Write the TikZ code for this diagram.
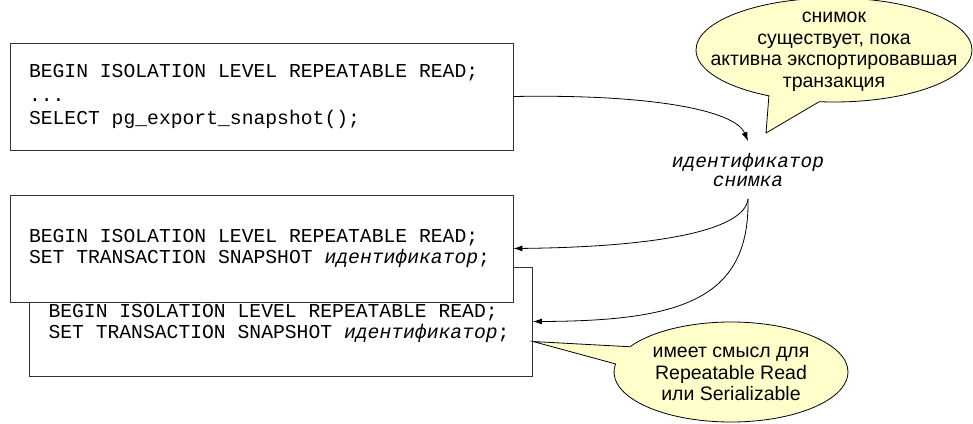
\documentclass[tikz,border=0pt]{standalone}
\usepackage{fontspec}
\setmainfont{Liberation Sans}
\newfontfamily\codefont{Liberation Mono}
\usetikzlibrary{arrows.meta,shapes.callouts}
\definecolor{notefill}{RGB}{255,255,204}
\newcommand{\bubbletext}[2][0pt]{\makebox[0pt]{\raisebox{#1}{\smash{\begin{tabular}{@{}c@{}}#2\end{tabular}}}}}

\begin{document}
\begin{tikzpicture}[x=1pt,y=-1pt]
\tikzstyle{code}=[rectangle,draw=black!80,fill=white,line width=0.9pt,minimum width=503pt,minimum height=107pt,text width=465pt,inner xsep=19pt,align=left,font=\codefont\fontsize{19.7}{20.5}\selectfont,execute at begin node={\spaceskip=0.6em\relax}]
\tikzstyle{snapid}=[inner ysep=12pt,align=center,font=\codefont\itshape\fontsize{19.5}{19}\selectfont]
\tikzstyle{note}=[ellipse callout,draw,fill=notefill,line width=0.8pt,inner sep=0pt,font=\fontsize{19.5}{21.5}\selectfont]
\tikzstyle{link}=[-{Latex[length=9pt,width=6pt]},line width=0.8pt]
\useasboundingbox (0,0) rectangle (973,423);
% second session goes behind the first one
\node at(281,321.5)(back)[code,minimum height=109pt]{\rule{0pt}{17pt}BEGIN ISOLATION LEVEL REPEATABLE READ;\\SET TRANSACTION SNAPSHOT \textit{идентификатор};};
\node at(261.5,248.5)(front)[code]{BEGIN ISOLATION LEVEL REPEATABLE READ;\\SET TRANSACTION SNAPSHOT \textit{идентификатор};};
\node at(261.5,96.5)(export)[code,font=\codefont\fontsize{19.7}{23.5}\selectfont]{BEGIN ISOLATION LEVEL REPEATABLE READ;\\...\\SELECT pg\_export\_snapshot();};
\node at(748,170)(snap)[snapid]{идентификатор\\снимка};
\draw[link] (export.east) .. controls (650,94) and (735,110) .. (snap.north);
\draw[link] (snap.south) .. controls (745,230) and (660,247) .. (front.east);
\draw[link] (snap.south) .. controls (750,300) and (680,321) .. (back.east);
% balloons
\coordinate (keeptip) at (766,133);
\coordinate (modetip) at ([yshift=-20pt]back.east);
\node at(834,50)(keep)[note,minimum width=276pt,minimum height=104pt,callout absolute pointer=(keeptip),callout pointer arc=22]{\bubbletext[-12pt]{снимок\\существует, пока\\активна экспортировавшая\\транзакция}};
\node at(731,372)(mode)[note,minimum width=234pt,minimum height=100pt,callout absolute pointer=(modetip),callout pointer arc=21]{\bubbletext[-16pt]{имеет смысл для\\Repeatable Read\\или Serializable}};
\end{tikzpicture}
\end{document}
